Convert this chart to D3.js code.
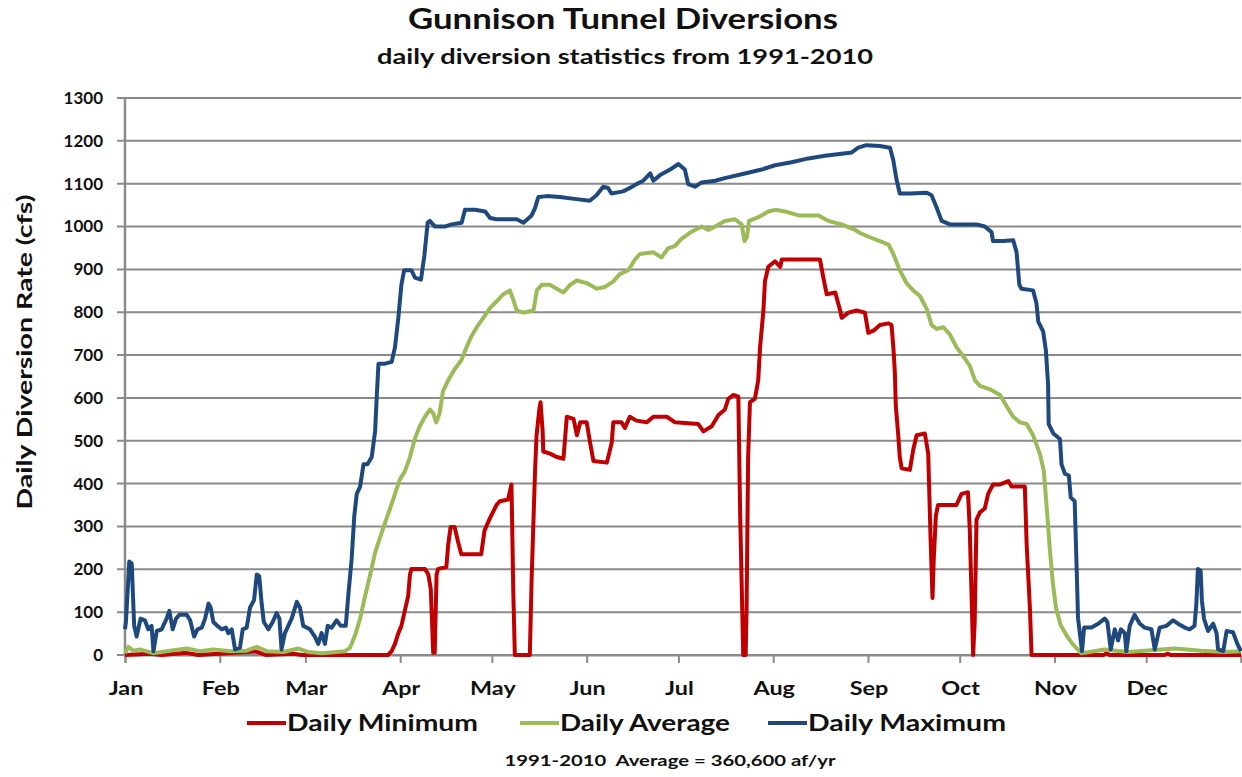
<!DOCTYPE html>
<html>
<head>
<meta charset="utf-8">
<script src="https://cdn.jsdelivr.net/npm/d3@7"></script>
<style>
  body { margin: 0; background: #fff; }
  svg { display: block; }
  text { font-family: Lato, "Open Sans", sans-serif; font-weight: bold; fill: #111; }
</style>
</head>
<body>
<svg width="1242" height="777"></svg>
<script>
// month ticks (day of year at month start)
const months = ["Jan","Feb","Mar","Apr","May","Jun","Jul","Aug","Sep","Oct","Nov","Dec"];
const monthStart = [0,31,59,90,120,151,181,212,243,273,304,334];
const yTicks = d3.range(0, 1301, 100);

// [day of year, cfs]
const dailyMin = [[0,0],[8,3],[12,0],[20,5],[24,0],[43,8],[46,0],[55,3],[58,0],[86,0],[87.2,9],[88.3,26],[89.4,51],[90.4,68],[91.5,103],[92.6,137],[93.2,188],[93.7,201],[98.1,201],[99.2,188],[100.0,154],[100.8,5],[101.3,5],[101.9,188],[102.4,201],[105.1,205],[105.7,257],[106.5,299],[107.8,299],[108.9,265],[110.0,235],[116.5,235],[117.6,291],[119.4,320],[121.5,350],[122.6,359],[125.3,363],[126.4,398],[127.0,145],[127.5,0],[132.4,0],[133.0,180],[134.1,428],[134.6,513],[135.5,573],[135.9,590],[136.6,522],[136.8,475],[139.0,470],[141.2,462],[143.4,458],[144.5,556],[146.7,551],[147.8,513],[148.9,543],[151.0,543],[152.1,496],[153.2,453],[157.6,449],[159.2,496],[159.7,543],[162.4,543],[163.5,530],[165.1,556],[167.3,547],[170.6,543],[172.8,556],[177.2,556],[179.9,543],[187.5,539],[189.2,522],[191.9,534],[194.1,560],[196.2,573],[197.3,598],[199.0,607],[200.6,603],[201.2,325],[202.2,0],[203.0,0],[203.3,111],[203.8,462],[204.4,590],[206.0,598],[207.1,641],[207.7,718],[208.8,804],[209.3,872],[210.4,906],[212.6,919],[214.3,906],[214.8,923],[227.3,923],[228.4,881],[229.5,842],[232.3,846],[233.9,804],[234.4,787],[236.6,799],[239.3,804],[242.0,799],[243.1,752],[244.8,757],[246.9,770],[249.7,774],[250.7,770],[251.3,718],[251.8,658],[252.1,581],[252.9,513],[253.4,462],[254.0,436],[256.7,432],[257.8,479],[258.9,513],[261.6,517],[262.7,470],[263.0,393],[263.5,265],[264.1,133],[264.5,222],[265.2,325],[265.9,350],[271.9,350],[273.6,376],[275.7,380],[276.3,291],[276.8,158],[277.4,0],[277.9,77],[278.5,316],[279.6,333],[281.2,342],[282.3,376],[283.9,398],[286.2,398],[288.9,406],[290.0,393],[294.3,393],[294.9,257],[296.0,103],[296.5,0],[320,0],[321,4],[322,0],[340,0],[341,3],[342,0],[365,0]];

const dailyAvg = [[0,4],[1.1,19],[2.7,10],[4.9,13],[9.3,4],[14.7,10],[20.2,15],[24.5,9],[28.9,13],[34.3,9],[39.8,10],[43.1,19],[46.3,9],[51.8,7],[56.7,15],[59.9,7],[64.3,4],[72.0,9],[73.6,17],[75.3,47],[76.9,85],[78.5,137],[80.2,188],[81.8,239],[83.4,274],[85.0,308],[86.7,342],[88.3,376],[89.9,410],[91.5,428],[93.2,462],[94.8,505],[96.4,534],[98.1,556],[99.7,573],[100.8,564],[101.8,543],[102.9,564],[104.0,616],[105.7,641],[107.8,667],[110.0,688],[111.7,718],[113.3,744],[115.5,770],[117.6,791],[119.4,810],[121.5,825],[123.7,842],[125.9,851],[127.0,829],[128.1,804],[130.3,799],[133.6,804],[134.7,851],[136.3,864],[139.0,864],[141.2,855],[143.4,846],[145.6,864],[147.8,874],[151.0,868],[154.3,855],[157.0,859],[159.7,872],[161.8,889],[164.6,898],[166.8,923],[168.4,936],[172.7,940],[175.5,928],[177.6,949],[179.9,955],[182.0,971],[185.3,988],[188.6,1000],[190.8,992],[193.0,1000],[196.2,1013],[199.5,1017],[201.7,1005],[202.6,966],[203.4,975],[204.1,1013],[207.2,1022],[210.4,1035],[212.6,1039],[215.9,1035],[220.3,1026],[226.8,1026],[230.1,1013],[234.4,1005],[238.8,992],[240.4,985],[243.6,975],[246.9,966],[249.7,958],[251.3,936],[253.4,898],[255.6,868],[257.8,851],[260.0,838],[262.2,808],[263.8,770],[265.5,761],[267.6,765],[269.8,748],[272.0,718],[274.2,697],[276.3,675],[278.0,641],[279.6,628],[282.9,620],[286.2,607],[288.3,581],[290.5,556],[292.7,543],[294.9,539],[297.0,513],[299.2,470],[300.5,430],[301.5,340],[302.5,245],[303.5,165],[304.5,110],[306,70],[308,45],[310,25],[312.8,4],[320.4,13],[328.0,7],[343.3,15],[352.0,10],[359.7,7],[365,9]];

const dailyMax = [[0,60],[0.3,77],[1.4,218],[2.2,214],[3.0,68],[3.8,43],[5.1,85],[6.5,81],[7.6,60],[8.7,68],[9.3,9],[10.4,56],[12.0,60],[13.6,85],[14.5,103],[15.6,60],[16.7,85],[17.8,94],[20.2,94],[21.3,81],[22.6,43],[23.7,60],[25.1,64],[26.2,85],[27.3,120],[28.0,111],[28.9,77],[30.2,68],[31.6,60],[33.0,64],[33.8,51],[34.9,60],[36.0,13],[37.6,17],[38.5,60],[39.8,64],[40.9,111],[42.2,128],[43.1,188],[43.9,184],[44.7,120],[45.4,77],[46.9,60],[48.3,77],[49.6,98],[50.5,85],[51.2,13],[52.3,51],[53.4,68],[54.5,85],[56.2,124],[57.2,111],[58.3,68],[60.5,60],[62.1,43],[63.2,26],[64.3,51],[65.4,26],[66.3,68],[67.6,64],[69.2,81],[70.6,68],[72.2,68],[73.0,137],[74.1,222],[75.0,325],[75.8,376],[76.9,393],[78.0,445],[79.3,445],[80.7,462],[81.8,522],[82.3,598],[82.9,680],[85.0,680],[87.2,684],[88.3,718],[89.4,787],[90.4,864],[91.3,898],[93.7,898],[94.8,881],[96.8,876],[97.9,932],[99.0,1009],[99.7,1013],[101.4,1000],[104.6,1000],[106.8,1005],[110.1,1009],[111.2,1039],[114.5,1039],[117.8,1035],[119.4,1020],[121.5,1017],[128.1,1017],[130.3,1009],[133.0,1026],[134.1,1043],[135.2,1069],[137.9,1071],[142.2,1069],[147.6,1064],[152.0,1060],[154.2,1073],[156.4,1093],[158.0,1090],[159.1,1077],[162.9,1082],[165.1,1090],[167.3,1099],[169.5,1107],[171.8,1124],[172.8,1107],[175.0,1120],[178.3,1133],[181.0,1146],[183.1,1133],[184.2,1099],[186.4,1093],[188.6,1103],[193.0,1107],[196.2,1113],[201.7,1122],[208.2,1133],[212.6,1143],[218.0,1150],[223.5,1159],[228.9,1165],[234.4,1170],[237.7,1173],[239.8,1184],[242.5,1190],[246.9,1188],[250.2,1184],[251.3,1154],[252.3,1111],[253.4,1077],[256.7,1077],[262.2,1079],[263.8,1073],[265.5,1043],[267.1,1013],[269.8,1005],[278.5,1005],[281.2,1000],[283.4,987],[283.9,966],[287.2,966],[290.5,968],[291.6,940],[292.5,864],[293.2,855],[297.0,851],[298.1,821],[298.7,778],[300.3,755],[301.2,710],[301.9,633],[302.1,539],[303.6,517],[305.8,504],[306.3,445],[307.4,423],[308.7,419],[309.3,368],[310.6,359],[311.2,214],[311.7,86],[313.0,9],[313.7,64],[316.1,64],[318.3,73],[320.4,85],[321.3,77],[322.4,13],[323.7,60],[324.8,34],[325.7,60],[327.0,51],[327.5,9],[328.6,68],[330.2,94],[331.9,73],[333.5,64],[335.7,60],[336.8,13],[338.4,64],[340.6,68],[342.8,81],[344.4,73],[346.6,64],[348.2,60],[349.8,68],[350.4,120],[350.9,201],[351.8,197],[352.2,128],[352.9,85],[354.2,56],[355.9,73],[357.0,51],[357.5,13],[359.2,9],[360.3,56],[362.4,53],[363.8,26],[365,9]];

const series = [
  { name: "Daily Minimum", color: "#c00000", values: dailyMin },
  { name: "Daily Average", color: "#9bbb59", values: dailyAvg },
  { name: "Daily Maximum", color: "#1f497d", values: dailyMax }
];

const svg = d3.select("svg");
const margin = { left: 125, right: 1, top: 98, bottom: 122 };
const width = +svg.attr("width");
const height = +svg.attr("height");

const x = d3.scaleLinear().domain([0, 365]).range([margin.left, width - margin.right]);
const y = d3.scaleLinear().domain([0, 1300]).range([height - margin.bottom, margin.top]);

const gridColor = "#8a8a8a";

// stretch text horizontally (the original font is wider than Lato)
const stretch = (sel, k) => sel.each(function() {
  const len = this.getComputedTextLength();
  d3.select(this).attr("textLength", len * k).attr("lengthAdjust", "spacingAndGlyphs");
});

// gridlines + y ticks
svg.append("g")
  .selectAll("line")
  .data(yTicks)
  .enter().append("line")
    .attr("x1", margin.left - 8)
    .attr("x2", width - margin.right)
    .attr("y1", d => y(d))
    .attr("y2", d => y(d))
    .attr("stroke", gridColor)
    .attr("stroke-width", 2);

svg.append("g")
  .selectAll("text")
  .data(yTicks)
  .enter().append("text")
    .attr("x", 103)
    .attr("y", d => y(d))
    .attr("dy", "0.35em")
    .attr("text-anchor", "end")
    .style("font-size", "17px")
    .text(d => d);

// y axis line
svg.append("line")
  .attr("x1", margin.left).attr("x2", margin.left)
  .attr("y1", y(1300)).attr("y2", y(0))
  .attr("stroke", gridColor).attr("stroke-width", 2.5);

// x axis month ticks
const xAxis = d3.axisBottom(x)
  .tickValues(monthStart.concat([365]))
  .tickSize(8)
  .tickFormat("");

const gx = svg.append("g")
  .attr("transform", `translate(0,${y(0)})`)
  .call(xAxis);
gx.select(".domain").attr("stroke", gridColor).attr("stroke-width", 2);
gx.selectAll(".tick line").attr("stroke", gridColor).attr("stroke-width", 2);

svg.append("g")
  .selectAll("text")
  .data(months)
  .enter().append("text")
    .attr("x", (d, i) => x(monthStart[i]) + 1)
    .attr("y", 695)
    .attr("text-anchor", "middle")
    .style("font-size", "18px")
    .text(d => d)
    .call(stretch, 1.3);

// lines
const line = d3.line()
  .x(d => x(d[0]))
  .y(d => y(d[1]));

svg.append("g")
  .selectAll("path")
  .data(series)
  .enter().append("path")
    .attr("d", d => line(d.values))
    .attr("fill", "none")
    .attr("stroke", d => d.color)
    .attr("stroke-width", 4)
    .attr("stroke-linejoin", "round");

// titles
svg.append("text")
  .attr("x", 623).attr("y", 29)
  .attr("text-anchor", "middle")
  .style("font-size", "28px")
  .attr("textLength", 430).attr("lengthAdjust", "spacingAndGlyphs")
  .text("Gunnison Tunnel Diversions");

svg.append("text")
  .attr("x", 625).attr("y", 64)
  .attr("text-anchor", "middle")
  .style("font-size", "20px")
  .attr("textLength", 496).attr("lengthAdjust", "spacingAndGlyphs")
  .text("daily diversion statistics from 1991-2010");

svg.append("text")
  .attr("transform", "translate(32,352) rotate(-90)")
  .attr("text-anchor", "middle")
  .style("font-size", "20px")
  .attr("textLength", 315).attr("lengthAdjust", "spacingAndGlyphs")
  .text("Daily Diversion Rate (cfs)");

// legend
const legendX = [247, 520, 768];
const legendW = [191, 170, 198];
const legend = svg.append("g")
  .selectAll("g")
  .data(series)
  .enter().append("g")
    .attr("transform", (d, i) => `translate(${legendX[i]},723)`);

legend.append("line")
  .attr("x1", 0).attr("x2", 39)
  .attr("stroke", d => d.color)
  .attr("stroke-width", 4);

legend.append("text")
  .attr("x", 40)
  .attr("dy", "0.35em")
  .style("font-size", "23px")
  .attr("textLength", (d, i) => legendW[i]).attr("lengthAdjust", "spacingAndGlyphs")
  .text(d => d.name);

svg.append("text")
  .attr("x", 670).attr("y", 766)
  .attr("text-anchor", "middle")
  .style("font-size", "16px")
  .attr("xml:space", "preserve")
  .attr("textLength", 331).attr("lengthAdjust", "spacingAndGlyphs")
  .text("1991-2010  Average = 360,600 af/yr");
</script>
</body>
</html>
